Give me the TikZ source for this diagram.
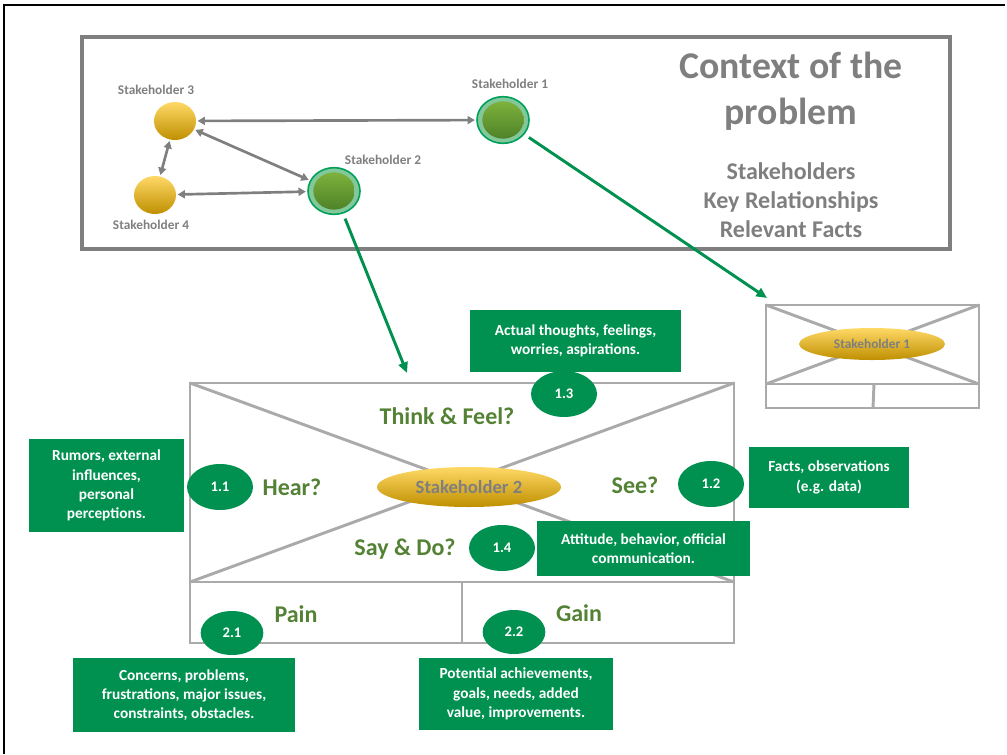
\documentclass[tikz,border=0pt]{standalone}
\usepackage{fontspec}
\setmainfont{Carlito}
\usetikzlibrary{arrows.meta,shapes.geometric}

\definecolor{notegreen}{RGB}{0,145,80}
\definecolor{ringgreen}{RGB}{0,160,90}
\definecolor{ringfill}{RGB}{130,200,155}
\definecolor{leafhi}{RGB}{125,178,60}
\definecolor{leaflo}{RGB}{78,130,40}
\definecolor{olivetext}{RGB}{84,130,53}
\definecolor{framegray}{RGB}{127,127,127}
\definecolor{sketchgray}{RGB}{170,170,170}
\definecolor{sunhi}{RGB}{255,217,102}
\definecolor{sunmid}{RGB}{255,192,0}
\definecolor{sunlo}{RGB}{191,143,0}

\tikzset{
  note/.style={fill=notegreen, text=white, align=center, inner sep=0pt,
    font=\bfseries\fontsize{11.5}{14.5}\selectfont},
  numtag/.style={ellipse, fill=notegreen, text=white, inner sep=0pt,
    minimum width=49.5pt, minimum height=34.5pt,
    font=\bfseries\fontsize{11}{13}\selectfont},
  quadlabel/.style={text=olivetext, font=\bfseries\fontsize{18}{20}\selectfont},
  whoname/.style={text=framegray, font=\bfseries\fontsize{10}{12}\selectfont},
  sunball/.style={ellipse, shade, top color=sunhi, middle color=sunmid,
    bottom color=sunlo, inner sep=0pt},
  leafball/.style={ellipse, fill=ringfill, draw=ringgreen, line width=1.2pt,
    minimum width=39pt, minimum height=35pt, inner sep=0pt},
  leafcore/.style={ellipse, shade, top color=leafhi, bottom color=leaflo,
    minimum width=31pt, minimum height=28pt, inner sep=0pt},
  relarrow/.style={draw=framegray, line width=2pt,
    {Triangle[length=5.5pt,width=6pt]}-{Triangle[length=5.5pt,width=6pt]},
    shorten <=1pt, shorten >=1pt},
  zoomarrow/.style={draw=notegreen, line width=2.2pt,
    -{Triangle[length=8pt,width=7pt]}},
  sketch/.style={draw=sketchgray, line width=2.2pt}
}

\begin{document}
\begin{tikzpicture}[x=0.75pt,y=-0.75pt,line join=miter]
  \useasboundingbox (0,0) rectangle (1007,754);
  \draw[black, line width=0.9pt] (4,754) -- (4,5) -- (1005,5);

  % context of the problem
  \draw[framegray, line width=3pt] (82,37) rectangle (950,249);
  \node[text=framegray, align=center, font=\bfseries\fontsize{28.3}{34.5}\selectfont]
    (title) at (791,91) {Context of the\\problem};
  \node[text=framegray, align=center, font=\bfseries\fontsize{18}{21.75}\selectfont]
    (facts) at (791,200) {Stakeholders\\Key Relationships\\Relevant Facts};

  \node[sunball, minimum width=31.5pt, minimum height=28.5pt] (s3) at (175,121) {};
  \node[sunball, minimum width=31.5pt, minimum height=28.5pt] (s4) at (155,195) {};
  \node[leafball] (s1) at (503,120) {};
  \node[leafcore] at (s1) {};
  \node[leafball] (s2) at (334,191) {};
  \node[leafcore] at (s2) {};

  \node[whoname] (s3name) at (156,90) {Stakeholder 3};
  \node[whoname] (s4name) at (151,225) {Stakeholder 4};
  \node[whoname] (s1name) at (510,84) {Stakeholder 1};
  \node[whoname] (s2name) at (383,160) {Stakeholder 2};

  \draw[relarrow] (s3) -- (s1);
  \draw[relarrow] (s3) -- (s2);
  \draw[relarrow] (s3) -- (s4);
  \draw[relarrow] (s4) -- (s2);

  % small empathy map
  \draw[sketch] (766,305) rectangle (979,408);
  \draw[sketch] (766,384) -- (979,384);
  \draw[sketch] (874,384) -- (873,408);
  \draw[sketch] (766,305) -- (979,384);
  \draw[sketch] (766,384) -- (979,305);
  \node[sunball, minimum width=109.5pt, minimum height=24pt, text=framegray,
    font=\bfseries\fontsize{10}{12}\selectfont] (map1) at (872,344) {Stakeholder 1};

  % main empathy map
  \draw[sketch] (190,383) rectangle (734,643);
  \draw[sketch] (190,582) -- (734,582);
  \draw[sketch] (462,582) -- (462,643);
  \draw[sketch] (190,383) -- (734,582);
  \draw[sketch] (190,582) -- (734,383);
  \node[sunball, minimum width=138pt, minimum height=30pt, text=framegray,
    font=\bfseries\fontsize{14}{16}\selectfont] (map2) at (469,487) {Stakeholder 2};

  \node[quadlabel] (think) at (447,416) {Think \& Feel?};
  \node[quadlabel] (hear) at (292,487) {Hear?};
  \node[quadlabel] (see) at (635,485) {See?};
  \node[quadlabel] (say) at (405,549) {Say \& Do?};
  \node[quadlabel] (pain) at (296,614) {Pain};
  \node[quadlabel] (gain) at (579,613) {Gain};

  % zoom arrows
  \coordinate (s1tip) at (767,298);
  \coordinate (s2tip) at (407,373);
  \draw[zoomarrow, shorten <=4pt] (s1) -- (s1tip);
  \draw[zoomarrow, shorten <=4pt] (s2) -- (s2tip);

  % notes
  \node[note, minimum width=158pt, minimum height=46.5pt] (thoughts) at (575.5,341)
    {Actual thoughts, feelings,\\worries, aspirations.};
  \node[note, minimum width=116pt, minimum height=70pt] (rumors) at (106.5,485.5)
    {Rumors, external\\influences,\\personal\\perceptions.};
  \node[note, minimum width=120pt, minimum height=46pt] (observe) at (829,477.5)
    {Facts, observations\\(e.g. data)};
  \node[note, minimum width=160pt, minimum height=41pt] (attitude) at (643.5,548.5)
    {Attitude, behavior, official\\communication.};
  \node[note, minimum width=166.5pt, minimum height=55.5pt] (concerns) at (184,695)
    {Concerns, problems,\\frustrations, major issues,\\constraints, obstacles.};
  \node[note, minimum width=145.5pt, minimum height=54pt] (achieve) at (516,694)
    {Potential achievements,\\goals, needs, added\\value, improvements.};

  \node[numtag] (n11) at (220,487) {1.1};
  \node[numtag] (n12) at (711,484) {1.2};
  \node[numtag] (n13) at (564,394) {1.3};
  \node[numtag] (n14) at (502,548) {1.4};
  \node[numtag, minimum width=47pt, minimum height=33pt] (n21) at (232,633) {2.1};
  \node[numtag, minimum width=47pt, minimum height=33pt] (n22) at (514,632) {2.2};
\end{tikzpicture}
\end{document}
